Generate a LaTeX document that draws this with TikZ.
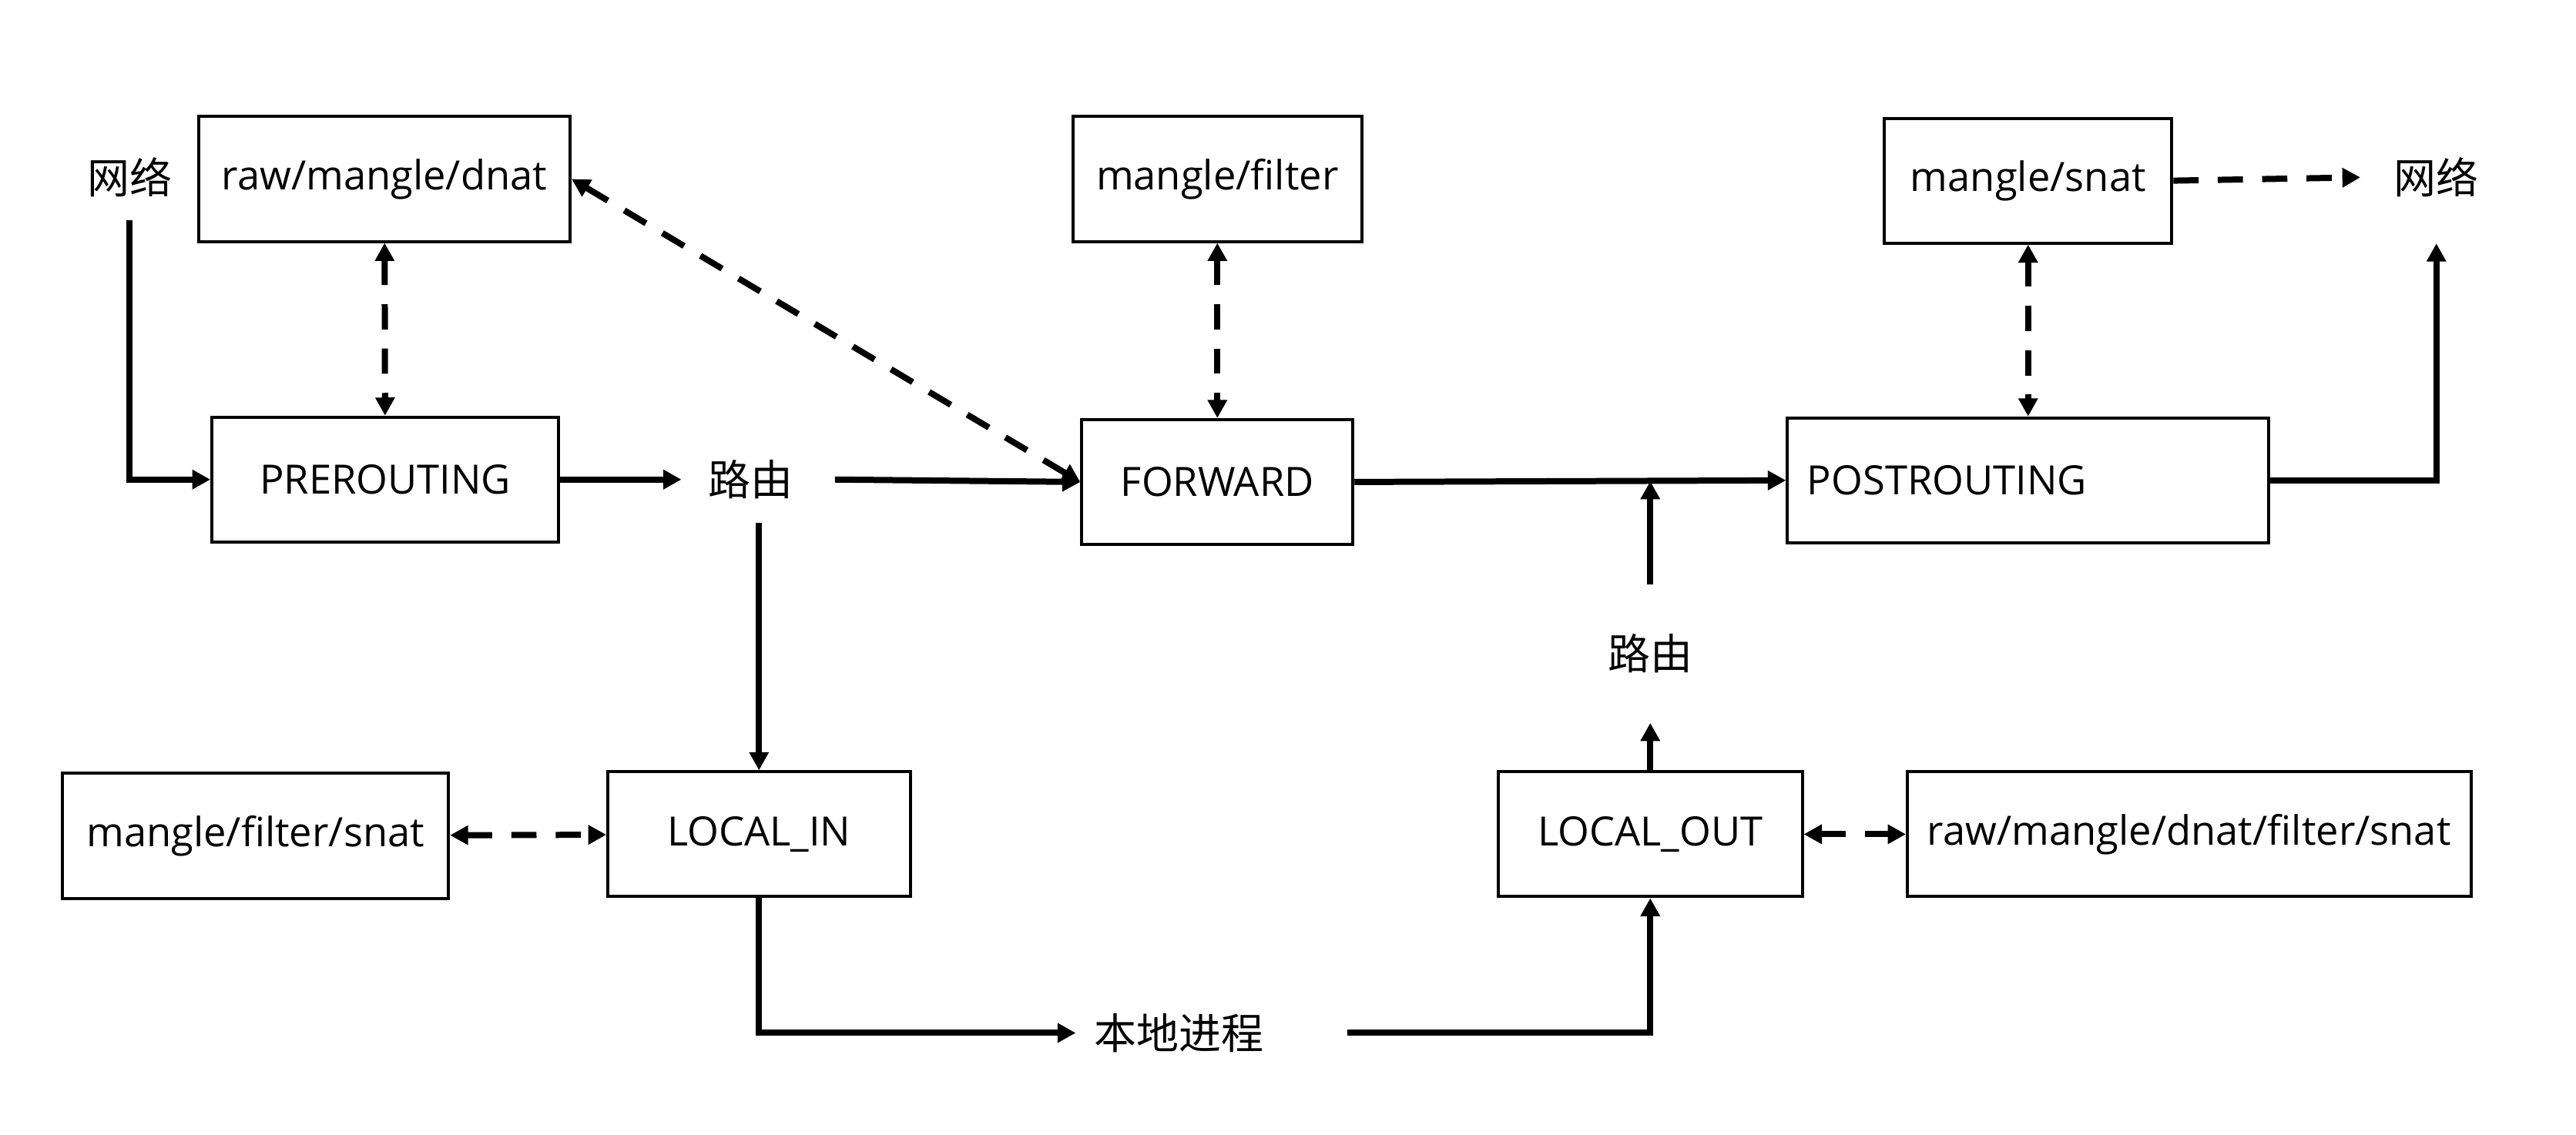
\documentclass[tikz,border=0pt]{standalone}
\usepackage{fontspec}
\setmainfont{Open Sans}
\newfontfamily\cjk{Noto Sans CJK SC}
\usepackage{tikz}
\usetikzlibrary{arrows.meta}

\begin{document}
\begin{tikzpicture}[x=.3mm,y=-.3mm,
		box/.style={draw,line width=1.6pt,minimum height=22.8mm,inner sep=0pt,font=\fontsize{21}{25}\selectfont},
		word/.style={inner sep=0pt,font=\cjk\fontsize{22}{26}\selectfont},
		flow/.style={line width=3.2pt,-{Triangle[length=3.3mm,width=3.4mm]}},
		link/.style={line width=3.2pt,dash pattern=on 4.6mm off 3.5mm,{Triangle[length=3.3mm,width=3.4mm]}-{Triangle[length=3.3mm,width=3.4mm]}}]
				\useasboundingbox (0,0) rectangle (1568,691);
				% tables
				\node[box,minimum width=67.8mm] (rmd) at (234,109) {raw/mangle/dnat};
				\node[box,minimum width=52.8mm] (mf) at (741,109) {mangle/filter};
				\node[box,minimum width=52.5mm] (ms) at (1234.5,110) {mangle/snat};
				\node[box,minimum width=70.5mm] (mfs) at (155.5,509) {mangle/filter/snat};
				\node[box,minimum width=102.9mm] (rall) at (1332.5,508) {raw/mangle/dnat/filter/snat};
				% hooks
				\node[box,minimum width=63.3mm] (pre) at (234.5,292) {PREROUTING};
				\node[box,minimum width=49.5mm] (fwd) at (741,293.5) {FORWARD};
				\node[box,minimum width=87.9mm,text width=80.7mm,inner xsep=3.6mm,align=left] (post) at (1234.5,292.5) {POSTROUTING};
				\node[box,minimum width=55.2mm] (lin) at (462,508) {LOCAL\_IN};
				\node[box,minimum width=55.5mm] (lout) at (1004.5,508) {LOCAL\_OUT};
				% words
				\node[word,minimum height=15.6mm] (net1) at (79,108) {网络};
				\node[word,minimum width=27.6mm,minimum height=24mm] (net2) at (1483,108) {网络};
				\node[word,minimum width=27.9mm,text width=18.3mm,inner xsep=4.8mm,align=left,minimum height=15.6mm] (r1) at (461.5,292) {路由};
				\node[word,minimum height=25.2mm] (r2) at (1004.5,398) {路由};
				\node[word,minimum width=49.5mm,text width=42.9mm,inner xsep=3.3mm,align=left] (proc) at (737.5,629) {本地进程};
				\coordinate (join) at (1004.5,293);
				% packet path
				\draw[flow] (net1.south) |- (pre.west);
				\draw[flow] (pre.east) -- (r1.west);
				\draw[flow] (r1.east) -- (fwd.west);
				\draw[flow] (fwd.east) -- (post.west);
				\draw[flow] (lin.north |- r1.south) -- (lin.north);
				\draw[flow] (lin.south) |- (proc.west);
				\draw[flow] (proc.east) -| (lout.south);
				\draw[flow] (lout.north) -- (r2.south);
				\draw[flow] (r2.north) -- (join);
				\draw[flow] (post.east) -| (net2.south);
				% tables at each hook
				\foreach \a/\b in {rmd/pre,mf/fwd,ms/post,mfs/lin,lout/rall}
				\draw[link] (\a) -- (\b);
				\draw[link] (rmd.east) -- (fwd.west);
				\draw[link,-{Triangle[length=3.3mm,width=3.4mm]}] (ms.east) -- (net2.west);
\end{tikzpicture}
\end{document}
